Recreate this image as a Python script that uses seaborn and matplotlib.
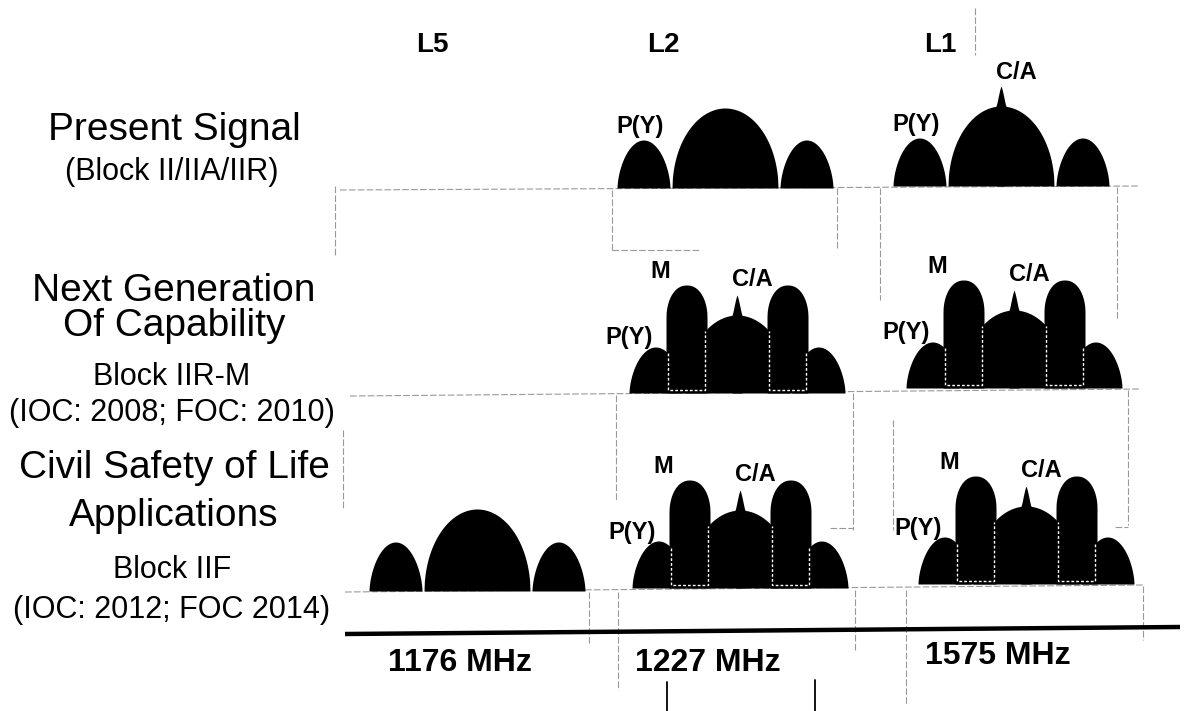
import numpy as np
import matplotlib
matplotlib.use("Agg")
import matplotlib.pyplot as plt
import seaborn as sns

# bands and their labels
bands = ["L5", "L2", "L1"]
band_label_x = [432, 663, 940]
freq_labels = ["1176 MHz", "1227 MHz", "1575 MHz"]
freq_label_x = [460, 708, 998]
freq_label_y = [671, 671, 664]

# row titles (big line(s), small line(s))
row_titles = [["Present Signal"],
              ["Next Generation", "Of Capability"],
              ["Civil Safety of Life", "Applications"]]
row_title_y = [[140], [301, 336], [478, 526]]
row_subtitles = [["(Block II/IIA/IIR)"],
                 ["Block IIR-M", "(IOC: 2008; FOC: 2010)"],
                 ["Block IIF", "(IOC: 2012; FOC 2014)"]]
row_subtitle_y = [[180], [385, 421], [578, 618]]

# carrier position and baseline of each spectrum, per row (nan = no signal)
l5_x = [np.nan, np.nan, 477]
l5_base = [np.nan, np.nan, 591]
l2_x = [725, 737, 740]
l2_base = [188, 393, 588]
l1_x = [1001, 1014, 1026]
l1_base = [186, 388, 584]

# lobe heights per row
py_main_h = [80, 78, 78]
py_side_h = [48, 46, 47]
m_h = [0, 108, 108]
l2_ca = [0, 20, 20]
l1_ca = [20, 20, 20]
l5_main_h = 82
l5_side_h = 49

# lobe half-widths / edges (offset from carrier)
main_half = 53
side_in, side_out = 55, 108
m_in, m_out = 30, 71
ca_half = 5

sns.set_style("white")
plt.rcParams["font.family"] = ["Liberation Sans", "DejaVu Sans"]
plt.rcParams["text.color"] = "black"

fig = plt.figure(figsize=(12, 7.11), dpi=100)
ax = fig.add_axes([0, 0, 1, 1])
ax.set_xlim(0, 1200)
ax.set_ylim(711, 0)
ax.axis("off")


def arch(c, half, h, base, p=0.5):
    xs = np.linspace(c - half, c + half, 300)
    t = (xs - c) / half
    ys = h * np.clip(1 - t ** 2, 0, None) ** p
    ax.fill_between(xs, base, base - ys, color="black", lw=0, zorder=3)


def side_h_at(x, c, h):
    cc = c + np.sign(x - c) * (side_in + side_out) / 2
    half = (side_out - side_in) / 2
    t = (x - cc) / half
    return h * max(1 - t ** 2, 0) ** 0.6


def main_h_at(x, c, h):
    t = (x - c) / main_half
    return h * max(1 - t ** 2, 0) ** 0.5


def spectrum(c, base, mh, sh, mm, ca):
    arch(c, main_half, mh, base, 0.5)
    for s in (-1, 1):
        cc = c + s * (side_in + side_out) / 2
        arch(cc, (side_out - side_in) / 2, sh, base, 0.6)
    if ca:
        xs = np.linspace(c - ca_half, c + ca_half, 60)
        t = np.abs(xs - c) / ca_half
        ys = main_h_at(c, c, mh) + ca * (1 - t ** 2) ** 0.8 * (1 - t) ** 0.6
        ax.fill_between(xs, base, base - ys, color="black", lw=0, zorder=4)
    if mm:
        cap = 32
        half = (m_out - m_in) / 2
        for s in (-1, 1):
            cc = c + s * (m_in + m_out) / 2
            xs = np.linspace(cc - half, cc + half, 300)
            t = (xs - cc) / half
            ys = (mm - cap) + cap * np.clip(1 - np.abs(t) ** 2.2, 0, None) ** 0.5
            ax.fill_between(xs, base, base - ys, color="black", lw=0, zorder=5)
            # white dotted outline where the M lobe overlaps other lobes
            xo = cc + s * (half - 2)
            xi = cc - s * (half - 2)
            ho = side_h_at(xo, c, sh)
            hi = main_h_at(xi, c, mh)
            ax.plot([xo, xo, xi, xi], [base - ho, base - 3, base - 3, base - hi],
                    color="white", lw=1, ls=(0, (2, 1.5)), zorder=6)


def label(x, y, s, size=17):
    ax.text(x, y, s, ha="center", va="baseline", fontsize=size,
            fontweight="bold", color="black", zorder=7)


for r in range(3):
    if not np.isnan(l5_x[r]):
        spectrum(l5_x[r], l5_base[r], l5_main_h, l5_side_h, 0, 0)
    spectrum(l2_x[r], l2_base[r], py_main_h[r], py_side_h[r], m_h[r], l2_ca[r])
    spectrum(l1_x[r], l1_base[r], py_main_h[r], py_side_h[r], m_h[r], l1_ca[r])
    for c, base, ca in ((l2_x[r], l2_base[r], l2_ca[r]), (l1_x[r], l1_base[r], l1_ca[r])):
        if m_h[r]:
            label(c - 108, base - 49, "P(Y)")
            label(c - 77, base - 115, "M")
        else:
            label(c - 85, base - 55, "P(Y)")
        if ca:
            label(c + 15, base - 107, "C/A")

# faint frame lines from the scan
grey = dict(color="#9a9a9a", lw=0.8, ls=(0, (6, 2)), zorder=1)
ax.plot([340, 1140], [190, 186], **grey)
ax.plot([350, 1140], [396, 389], **grey)
ax.plot([345, 1145], [592, 585], **grey)
for x0, y0, y1 in [(335, 186, 256), (612, 190, 250), (837, 188, 250),
                   (880, 188, 300), (1117, 187, 320), (343, 430, 510),
                   (616, 395, 500), (853, 393, 530), (893, 420, 530),
                   (1128, 390, 525), (589, 592, 645), (618, 592, 690),
                   (855, 590, 650), (906, 590, 705), (1143, 586, 640),
                   (975, 8, 55)]:
    ax.plot([x0, x0], [y0, y1], **grey)
ax.plot([612, 700], [250, 250], **grey)
ax.plot([830, 853], [528, 528], **grey)
ax.plot([1115, 1128], [527, 527], **grey)

# frequency axis
ax.plot([345, 1180], [634, 627], color="black", lw=3.2, solid_capstyle="butt", zorder=2)
ax.plot([667, 667], [682, 711], color="black", lw=1.3)
ax.plot([815, 815], [680, 711], color="black", lw=1.3)

for x, s in zip(band_label_x, bands):
    label(x, 52, s, size=20)
for x, y, s in zip(freq_label_x, freq_label_y, freq_labels):
    label(x, y, s, size=23)

for r in range(3):
    for s, y in zip(row_titles[r], row_title_y[r]):
        ax.text(174, y, s, ha="center", va="baseline", fontsize=28, color="black")
    for s, y in zip(row_subtitles[r], row_subtitle_y[r]):
        ax.text(172, y, s, ha="center", va="baseline", fontsize=22, color="black")

fig.savefig("out.png", dpi=100)
